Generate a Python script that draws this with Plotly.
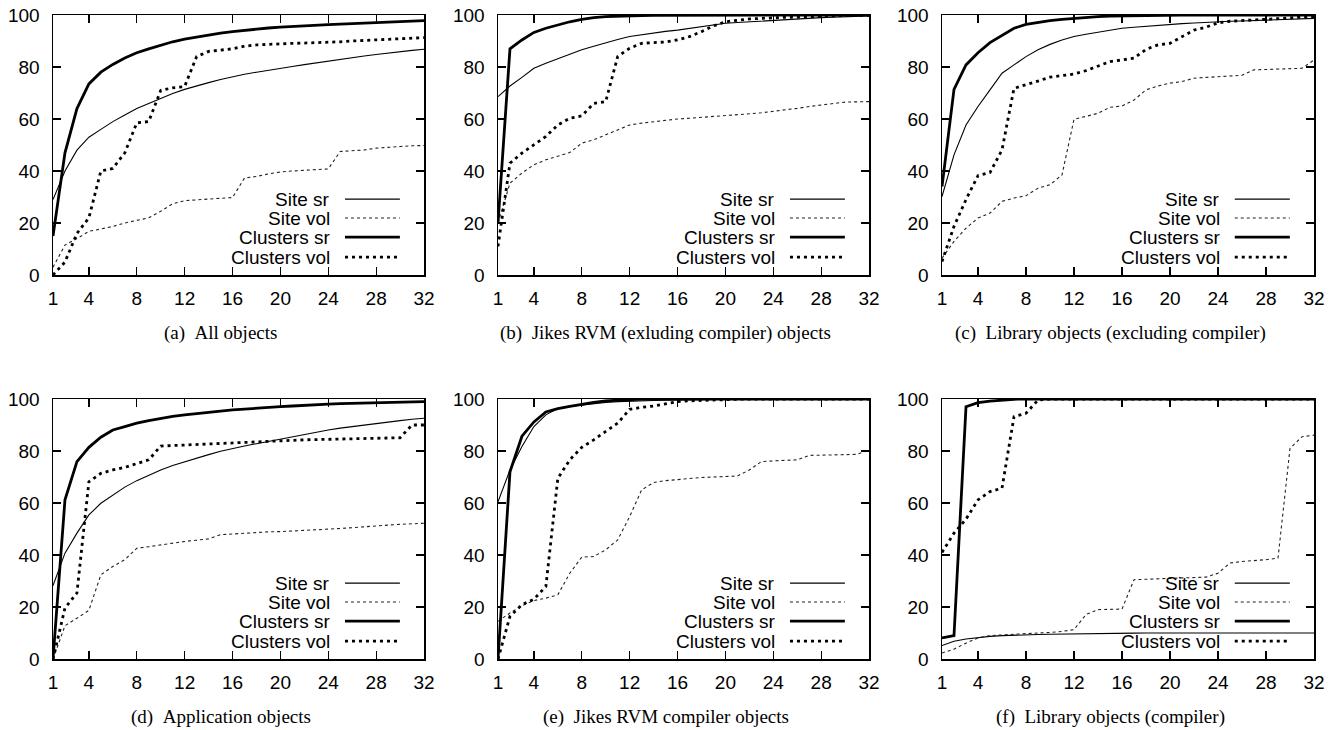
import plotly.graph_objects as go

# ---------------- data ----------------
x_vals = list(range(1, 33))
x_ticks = [1, 4, 8, 12, 16, 20, 24, 28, 32]
y_ticks = [0, 20, 40, 60, 80, 100]
series_names = ["Site sr", "Site vol", "Clusters sr", "Clusters vol"]
captions = [
    "(a)\u00a0\u00a0All objects",
    "(b)\u00a0\u00a0Jikes RVM (exluding compiler) objects",
    "(c)\u00a0\u00a0Library objects (excluding compiler)",
    "(d)\u00a0\u00a0Application objects",
    "(e)\u00a0\u00a0Jikes RVM compiler objects",
    "(f)\u00a0\u00a0Library objects (compiler)",
]

a_site_sr = [29, 40, 48, 53, 56, 59, 61.5, 64, 66, 68, 69.8, 71.4, 72.8, 74, 75.2, 76.3,
             77.2, 78, 78.8, 79.5, 80.2, 80.9, 81.6, 82.3, 83, 83.6, 84.2, 84.8, 85.4, 85.9, 86.4, 86.8]
a_site_vol = [3, 11.5, 14, 16.8, 17.7, 18.7, 20, 21, 22, 24.5, 27.4, 28.6, 29, 29.2, 29.5, 29.8,
              37.3, 37.9, 38.9, 39.6, 40, 40.2, 40.5, 40.8, 47.5, 47.8, 48.1, 48.8, 49.2, 49.4, 49.7, 49.8]
a_clu_sr = [15, 47, 64, 73.5, 78, 81, 83.5, 85.5, 87, 88.5, 89.7, 90.7, 91.5, 92.3, 93, 93.6,
            94.1, 94.6, 95, 95.3, 95.6, 95.9, 96.1, 96.3, 96.5, 96.7, 96.9, 97.1, 97.3, 97.5, 97.7, 97.8]
a_clu_vol = [0, 5, 16, 22, 40, 41, 47, 58.5, 59, 71, 72, 72.5, 84, 86, 86.5, 87,
             88, 88.5, 88.7, 89, 89.1, 89.2, 89.3, 89.5, 89.7, 90, 90.2, 90.5, 90.7, 90.9, 91.1, 91.3]

b_site_sr = [68.6, 72.7, 76, 79.5, 81.4, 83.2, 84.9, 86.6, 88, 89.4, 90.6, 91.7, 92.4, 93.1, 93.7, 94.2,
             94.9, 95.6, 96.2, 96.8, 97.1, 97.4, 97.7, 98, 98.3, 98.5, 98.8, 99, 99.2, 99.3, 99.5, 99.6]
b_site_vol = [20, 35.3, 39.2, 42.4, 44.3, 45.8, 47.1, 50.7, 52, 53.9, 55.8, 57.7, 58.4, 59, 59.5, 60,
              60.3, 60.6, 60.9, 61.2, 61.6, 62, 62.4, 62.9, 63.5, 64.1, 64.8, 65.4, 66, 66.5, 66.6, 66.7]
b_clu_sr = [20, 87, 90.4, 93.3, 94.9, 96.2, 97.4, 98.3, 99, 99.4, 99.6, 99.7, 99.8, 99.9, 99.9, 100,
            100, 100, 100, 100, 100, 100, 100, 100, 100, 100, 100, 100, 100, 100, 100, 100]
b_clu_vol = [11, 43, 46.9, 50, 53.3, 57.7, 60.3, 61.2, 66, 66.7, 84, 87.2, 89.1, 89.4, 89.6, 90.4,
             91.7, 93.6, 95.8, 97.4, 98, 98.5, 98.7, 99, 99.1, 99.2, 99.4, 99.6, 99.7, 99.8, 99.9, 99.9]

c_site_sr = [30.2, 46.2, 57.7, 64.8, 71.2, 77.6, 80.8, 84, 86.6, 88.7, 90.4, 91.7, 92.6, 93.3, 94.2, 94.9,
             95.3, 95.7, 96.1, 96.5, 96.7, 96.9, 97.2, 97.4, 97.6, 97.7, 97.9, 98, 98.2, 98.4, 98.5, 98.7]
c_site_vol = [6.5, 12.9, 18, 21.9, 23.8, 28.3, 29.6, 30.5, 33.4, 34.7, 38.5, 59.9, 61, 62.2, 64.5, 65,
              67.3, 71.2, 72.7, 73.8, 74.4, 75.7, 76, 76.3, 76.6, 76.8, 78.9, 79.1, 79.2, 79.4, 79.5, 82.7]
c_clu_sr = [34, 71.4, 80.8, 85.5, 89.4, 92.3, 94.9, 96.4, 97.2, 97.8, 98.3, 98.7, 99.1, 99.4, 99.6, 99.7,
            99.8, 99.9, 99.9, 100, 100, 100, 100, 100, 100, 100, 100, 100, 100, 100, 100, 100]
c_clu_vol = [5.2, 18.7, 29, 38.2, 39.4, 48.1, 71.8, 73.1, 74.6, 76.1, 76.6, 77.3, 78.6, 80.4, 82.1, 82.7,
             83.4, 86.8, 88.5, 89.1, 91.7, 94.2, 95.3, 97, 97.6, 97.8, 98.1, 98.3, 98.6, 98.9, 99.2, 99.4]

d_site_sr = [28.2, 40.7, 48.4, 55.4, 59.9, 63.1, 66.1, 68.6, 70.8, 72.7, 74.4, 75.9, 77.3, 78.6, 79.9, 81,
             81.9, 82.8, 83.7, 84.6, 85.5, 86.4, 87.3, 88.1, 88.8, 89.4, 90.1, 90.7, 91.2, 91.7, 92.2, 92.6]
d_site_vol = [0, 12.8, 15.7, 18.7, 32.4, 35.6, 38.2, 42.6, 43.2, 43.9, 44.5, 45.2, 45.7, 46.2, 47.8, 48.1,
              48.4, 48.7, 48.9, 49, 49.2, 49.4, 49.7, 49.9, 50.2, 50.5, 50.9, 51.2, 51.5, 51.8, 52, 52.2]
d_clu_sr = [0, 61.2, 75.9, 81.4, 85.3, 88.1, 89.4, 90.7, 91.7, 92.6, 93.3, 93.9, 94.4, 94.9, 95.4, 95.8,
            96.1, 96.5, 96.8, 97.1, 97.3, 97.6, 97.8, 98, 98.2, 98.3, 98.5, 98.6, 98.7, 98.8, 98.9, 99]
d_clu_vol = [0, 19.6, 25.4, 68.2, 71.4, 72.7, 73.7, 75.3, 76.6, 81.9, 82.1, 82.3, 82.5, 82.7, 82.9, 83.1,
             83.3, 83.5, 83.8, 84.1, 84.2, 84.3, 84.4, 84.5, 84.6, 84.7, 84.8, 84.9, 85, 85.1, 90, 90]

e_site_sr = [60.5, 72.7, 81.7, 89.4, 93.9, 96.3, 97.1, 97.7, 98.2, 98.7, 99, 99.2, 99.3, 99.4, 99.5, 99.6,
             99.7, 99.7, 99.8, 99.8, 99.9, 99.9, 99.9, 100, 100, 100, 100, 100, 100, 100, 100, 100]
e_site_vol = [14.5, 17.7, 20.5, 22.5, 23.4, 24.7, 33, 39.2, 39.4, 42, 45.8, 54.8, 65, 67.9, 68.6, 69.1,
              69.4, 69.8, 70, 70.2, 70.4, 72.7, 75.9, 76.2, 76.4, 76.6, 78.3, 78.4, 78.5, 78.6, 78.7, 80.4]
e_clu_sr = [0, 72, 85.7, 91.2, 95, 96.3, 97.2, 98, 98.7, 99.3, 99.6, 99.9, 100, 100, 100, 100,
            100, 100, 100, 100, 100, 100, 100, 100, 100, 100, 100, 100, 100, 100, 100, 100]
e_clu_vol = [0, 16.4, 20.9, 23, 27.9, 69.5, 76.6, 81.4, 84.3, 87.5, 90.7, 96, 96.8, 97.3, 98.1, 99,
             99.3, 99.5, 99.7, 99.8, 99.9, 100, 100, 100, 100, 100, 100, 100, 100, 100, 100, 100]

f_site_sr = [5.2, 6.8, 7.7, 8.3, 8.7, 9, 9.2, 9.3, 9.4, 9.5, 9.6, 9.7, 9.75, 9.8, 9.85, 9.9,
             9.95, 10, 10, 10, 10, 10, 10, 10, 10, 10, 10, 10, 10, 10, 10, 10]
f_site_vol = [2.3, 3.8, 6.1, 8.1, 9, 9.3, 9.6, 9.7, 10, 10.2, 10.6, 11.3, 17.1, 19, 19, 19.2,
              30.5, 30.7, 30.8, 31, 31.1, 31.3, 31.5, 33, 36.9, 37.5, 37.8, 38.2, 38.8, 81, 85.5, 86.1]
f_clu_sr = [8.1, 9, 97, 98.6, 99.2, 99.6, 99.9, 100, 100, 100, 100, 100, 100, 100, 100, 100,
            100, 100, 100, 100, 100, 100, 100, 100, 100, 100, 100, 100, 100, 100, 100, 100]
f_clu_vol = [41, 48.4, 53.8, 61.2, 64.4, 65.7, 93.2, 94.5, 99.6, 100, 100, 100, 100, 100, 100, 100,
             100, 100, 100, 100, 100, 100, 100, 100, 100, 100, 100, 100, 100, 100, 100, 100]

panels = [
    [a_site_sr, a_site_vol, a_clu_sr, a_clu_vol],
    [b_site_sr, b_site_vol, b_clu_sr, b_clu_vol],
    [c_site_sr, c_site_vol, c_clu_sr, c_clu_vol],
    [d_site_sr, d_site_vol, d_clu_sr, d_clu_vol],
    [e_site_sr, e_site_vol, e_clu_sr, e_clu_vol],
    [f_site_sr, f_site_vol, f_clu_sr, f_clu_vol],
]

# ---------------- styling ----------------
W, H = 1331, 730
line_styles = [
    dict(color="black", width=1.1, dash="solid"),
    dict(color="#222222", width=1.1, dash="3px,3px"),
    dict(color="black", width=2.8, dash="solid"),
    dict(color="black", width=2.8, dash="3px,4px"),
]
col_px = [(53, 424), (498, 869), (942, 1314)]
row_px = [(15, 275), (399, 659)]
TICK_FONT = dict(family="Liberation Sans, Arial, sans-serif", size=19, color="black")
CAP_FONT = dict(family="Liberation Serif, Times New Roman, serif", size=19, color="black")

fig = go.Figure()
layout = dict(template="none", width=W, height=H, margin=dict(l=0, r=0, t=0, b=0, pad=0),
              paper_bgcolor="white", plot_bgcolor="white", showlegend=False)
annotations = []
shapes = []

for i, series in enumerate(panels):
    r, c = divmod(i, 3)
    n = i + 1
    xa = "xaxis" if n == 1 else f"xaxis{n}"
    ya = "yaxis" if n == 1 else f"yaxis{n}"
    xr = "x" if n == 1 else f"x{n}"
    yr = "y" if n == 1 else f"y{n}"
    x0, x1 = col_px[c]
    y0, y1 = row_px[r]
    layout[xa] = dict(domain=[x0 / W, x1 / W], range=[1, 32], anchor=yr, automargin=False,
                      tickvals=x_ticks, ticktext=[str(t) for t in x_ticks],
                      ticks="inside", ticklen=8, tickwidth=1.2, tickcolor="black",
                      showline=True, linecolor="black", linewidth=1.5, mirror="ticks",
                      showgrid=False, zeroline=False, tickfont=TICK_FONT,
                      ticklabelstandoff=6, fixedrange=True)
    layout[ya] = dict(domain=[1 - y1 / H, 1 - y0 / H], range=[0, 100], anchor=xr, automargin=False,
                      tickvals=y_ticks, ticks="inside", ticklen=8, tickwidth=1.2,
                      tickcolor="black", showline=True, linecolor="black", linewidth=1.5,
                      mirror="ticks", showgrid=False, zeroline=False, tickfont=TICK_FONT,
                      ticklabelstandoff=8, fixedrange=True)
    for k, vals in enumerate(series):
        fig.add_trace(go.Scatter(x=x_vals, y=vals, mode="lines", name=series_names[k],
                                 line=line_styles[k], xaxis=xr, yaxis=yr, hoverinfo="skip"))
    # gnuplot-style key: right-aligned text, sample to the right
    key_rows = [0.292, 0.219, 0.146, 0.069]
    for k in range(4):
        annotations.append(dict(xref=f"{xr} domain", yref=f"{yr} domain", x=0.752, y=key_rows[k],
                                text=series_names[k], showarrow=False, xanchor="right",
                                yanchor="middle", font=TICK_FONT))
        shapes.append(dict(type="line", xref=f"{xr} domain", yref=f"{yr} domain",
                           x0=0.787, x1=0.935, y0=key_rows[k], y1=key_rows[k],
                           line=line_styles[k]))
    cx = ((x0 + x1) / 2 - 18) / W
    cy = 1 - (y1 + 58) / H
    annotations.append(dict(xref="paper", yref="paper", x=cx, y=cy, text=captions[i],
                            showarrow=False, xanchor="center", yanchor="middle", font=CAP_FONT))

layout["annotations"] = annotations
layout["shapes"] = shapes
fig.update_layout(**layout)
fig.write_html("out.html", config={"displayModeBar": False, "staticPlot": True},
               post_script="document.body.style.margin='0';document.body.style.overflow='hidden';")
